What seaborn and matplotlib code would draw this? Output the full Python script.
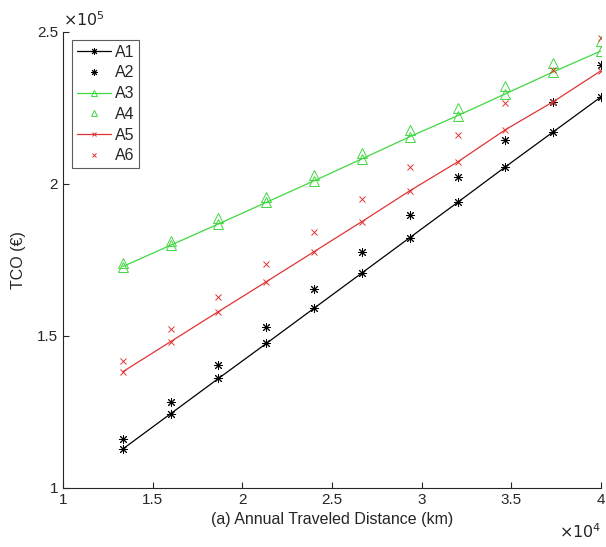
import numpy as np
import pandas as pd
import matplotlib
matplotlib.use("Agg")
import matplotlib.pyplot as plt
import seaborn as sns
from matplotlib.ticker import FuncFormatter

# Annual traveled distance (km)
distance = [13333, 16000, 18667, 21333, 24000, 26667, 29333, 32000, 34667, 37333, 40000]

# TCO values (EUR)
a1 = [112800, 124400, 136000, 147500, 159100, 170700, 182300, 193900, 205600, 217100, 228600]
a2 = [116100, 128300, 140500, 153000, 165500, 177600, 189800, 202300, 214500, 227000, 239000]
a3 = [172800, 179800, 186800, 193900, 201000, 208200, 215500, 222400, 229600, 236800, 243700]
a4 = [174000, 181300, 188600, 195700, 203000, 210000, 217800, 225000, 232200, 239800, 247000]
a5 = [138200, 148100, 158000, 167800, 177700, 187600, 197700, 207200, 217800, 227000, 237200]
a6 = [141800, 152300, 162800, 173700, 184200, 195000, 205500, 216100, 226600, 237500, 248000]

series = [
    ("A1", a1, "black", (8, 2, 0), "-", 6.5),
    ("A2", a2, "black", (8, 2, 0), "none", 6.5),
    ("A3", a3, "#40d840", "^", "-", 6.5),
    ("A4", a4, "#40d840", "^", "none", 6.5),
    ("A5", a5, "#e03434", "x", "-", 4.5),
    ("A6", a6, "#e03434", "x", "none", 4.5),
]

sns.set_style("white")
plt.rcParams["font.family"] = ["Liberation Sans", "DejaVu Sans"]

fig = plt.figure(figsize=(6.06, 5.47), dpi=100)
ax = fig.add_axes([0.104, 0.108, 0.888, 0.834])

for name, vals, col, mk, ls, ms in series:
    df = pd.DataFrame({"distance": distance, "tco": vals})
    sns.lineplot(data=df, x="distance", y="tco", ax=ax, color=col, marker=mk,
                 linestyle=ls, linewidth=0.9, markersize=ms, markerfacecolor="none",
                 markeredgecolor=col, markeredgewidth=0.7, label=name)

ax.set_xlim(10000, 40000)
ax.set_ylim(100000, 250000)
ax.set_xticks(np.arange(10000, 40001, 5000))
ax.set_yticks(np.arange(100000, 250001, 50000))
ax.xaxis.set_major_formatter(FuncFormatter(lambda v, p: f"{v / 1e4:g}"))
ax.yaxis.set_major_formatter(FuncFormatter(lambda v, p: f"{v / 1e5:g}"))
ax.tick_params(direction="in", length=4, width=0.8, colors="#262626", labelsize=11,
               bottom=True, left=True)
for s in ["top", "right"]:
    ax.spines[s].set_visible(False)
for s in ["left", "bottom"]:
    ax.spines[s].set_color("#262626")
    ax.spines[s].set_linewidth(0.8)

ax.set_xlabel("(a) Annual Traveled Distance (km)", fontsize=11.5, color="#262626", labelpad=4)
ax.set_ylabel("TCO (€)", fontsize=11.5, color="#262626", labelpad=8)

ax.text(0.0, 1.005, r"$\times10^5$", transform=ax.transAxes, fontsize=11.5,
        color="#262626", ha="left", va="bottom")
ax.text(1.0, -0.075, r"$\times10^4$", transform=ax.transAxes, fontsize=11.5,
        color="#262626", ha="right", va="top")

leg = ax.legend(loc="upper left", bbox_to_anchor=(0.017, 0.982), fontsize=11.5,
                frameon=True, fancybox=False, edgecolor="#333333", handlelength=2.1,
                borderpad=0.3, labelspacing=0.36, handletextpad=0.25, borderaxespad=0,
                markerscale=0.75)
leg.get_frame().set_linewidth(0.8)

fig.savefig("out.png", dpi=100)
